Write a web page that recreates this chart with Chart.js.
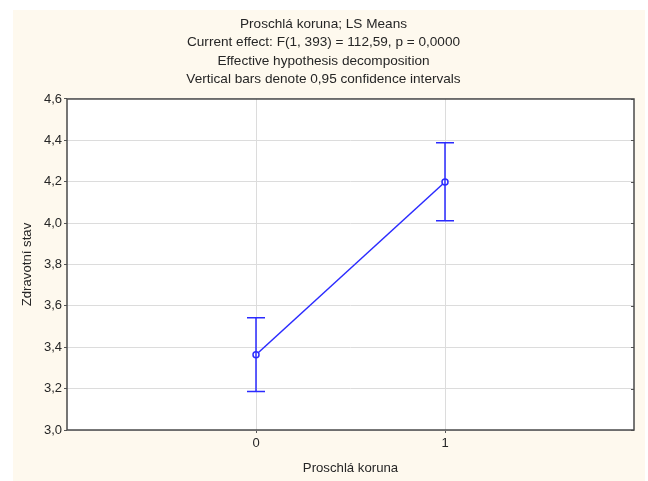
<!DOCTYPE html>
<html>
<head>
<meta charset="utf-8">
<script src="https://cdn.jsdelivr.net/npm/chart.js@4.4.0/dist/chart.umd.min.js"></script>
<style>
    html, body { margin: 0; padding: 0; background: #fff; }
    #wrap {
        position: absolute;
        left: 13px; top: 10px;
        width: 632px; height: 471px;
        background: #fef9ee;
    }
</style>
</head>
<body>
<div id="wrap"><canvas id="lsChart"></canvas></div>
<script>
// Data
const categories = [0, 1];
const categoryLabels = ['0', '1'];
const means = [3.364, 4.199];
const ciLower = [3.186, 4.012];
const ciUpper = [3.543, 4.389];
const yTicks = [3.0, 3.2, 3.4, 3.6, 3.8, 4.0, 4.2, 4.4, 4.6];
const titleLines = [
    'Proschlá koruna; LS Means',
    'Current effect: F(1, 393) = 112,59, p = 0,0000',
    'Effective hypothesis decomposition',
    'Vertical bars denote 0,95 confidence intervals'
];

const BLUE = '#2b2bff';
const TEXT = '#262626';

Chart.defaults.font.family = "'Liberation Sans', Arial, sans-serif";
Chart.defaults.font.size = 13;
Chart.defaults.color = TEXT;

// error bars + frame around the plot area
const errorBars = {
    id: 'errorBars',
    afterDatasetsDraw(chart) {
        const { ctx, scales: { x, y } } = chart;
        ctx.save();
        ctx.strokeStyle = BLUE;
        ctx.lineWidth = 1.5;
        categories.forEach((c, i) => {
            const px = x.getPixelForValue(c);
            const top = y.getPixelForValue(ciUpper[i]);
            const bot = y.getPixelForValue(ciLower[i]);
            ctx.beginPath();
            ctx.moveTo(px, top); ctx.lineTo(px, bot);
            ctx.moveTo(px - 9, top); ctx.lineTo(px + 9, top);
            ctx.moveTo(px - 9, bot); ctx.lineTo(px + 9, bot);
            ctx.stroke();
        });
        ctx.restore();
    },
    afterDraw(chart) {
        const a = chart.chartArea;
        const { ctx, scales: { y } } = chart;
        ctx.save();
        // small inside ticks on the right border
        ctx.strokeStyle = '#555';
        ctx.lineWidth = 1;
        yTicks.forEach(v => {
            const py = Math.round(y.getPixelForValue(v)) + 0.5;
            ctx.beginPath();
            ctx.moveTo(a.right - 3, py); ctx.lineTo(a.right, py);
            ctx.stroke();
        });
        ctx.strokeStyle = '#4a4a4a';
        ctx.lineWidth = 1.5;
        ctx.strokeRect(a.left, a.top, a.right - a.left, a.bottom - a.top);
        ctx.restore();
    }
};

const plotBg = {
    id: 'plotBg',
    beforeDraw(chart) {
        const a = chart.chartArea;
        const ctx = chart.ctx;
        ctx.save();
        ctx.fillStyle = '#ffffff';
        ctx.fillRect(a.left, a.top, a.right - a.left, a.bottom - a.top);
        ctx.restore();
    }
};

new Chart(document.getElementById('lsChart'), {
    type: 'line',
    data: {
        datasets: [{
            data: categories.map((c, i) => ({ x: c, y: means[i] })),
            borderColor: BLUE,
            borderWidth: 1.5,
            pointRadius: 3,
            pointBorderWidth: 1.5,
            pointBackgroundColor: '#ffffff',
            pointBorderColor: BLUE,
            tension: 0
        }]
    },
    options: {
        responsive: true,
        maintainAspectRatio: false,
        animation: false,
        layout: { padding: { left: 0, right: 11, top: 0, bottom: 0 } },
        plugins: {
            legend: { display: false },
            tooltip: { enabled: false },
            title: {
                display: true,
                text: titleLines,
                color: TEXT,
                font: { size: 13.6, weight: 'normal', lineHeight: 1.36 },
                padding: { top: 4.75, bottom: 10.25 }
            }
        },
        scales: {
            x: {
                type: 'linear',
                min: -1,
                max: 2,
                afterBuildTicks: s => { s.ticks = categories.map(v => ({ value: v })); },
                afterFit: s => { s.height = 51; },
                ticks: {
                    callback: v => categoryLabels[categories.indexOf(v)],
                    padding: 3,
                    maxRotation: 0
                },
                grid: { color: '#dcdcdc', tickLength: 3, tickColor: '#555', lineWidth: 1 },
                border: { display: false },
                title: {
                    display: true,
                    text: 'Proschlá koruna',
                    font: { size: 13.2, lineHeight: 1.2 },
                    padding: { top: 0, bottom: 5 }
                }
            },
            y: {
                min: 3.0,
                max: 4.6,
                afterBuildTicks: s => { s.ticks = yTicks.map(v => ({ value: v })); },
                afterFit: s => { s.width = 54; },
                ticks: {
                    callback: v => v.toFixed(1).replace('.', ','),
                    padding: 2
                },
                grid: { color: '#dcdcdc', tickLength: 3, tickColor: '#555', lineWidth: 1 },
                border: { display: false },
                title: {
                    display: true,
                    text: 'Zdravotní stav',
                    font: { size: 13.2, lineHeight: 1.2 },
                    padding: { top: 6.5, bottom: 0 }
                }
            }
        }
    },
    plugins: [plotBg, errorBars]
});
</script>
</body>
</html>
